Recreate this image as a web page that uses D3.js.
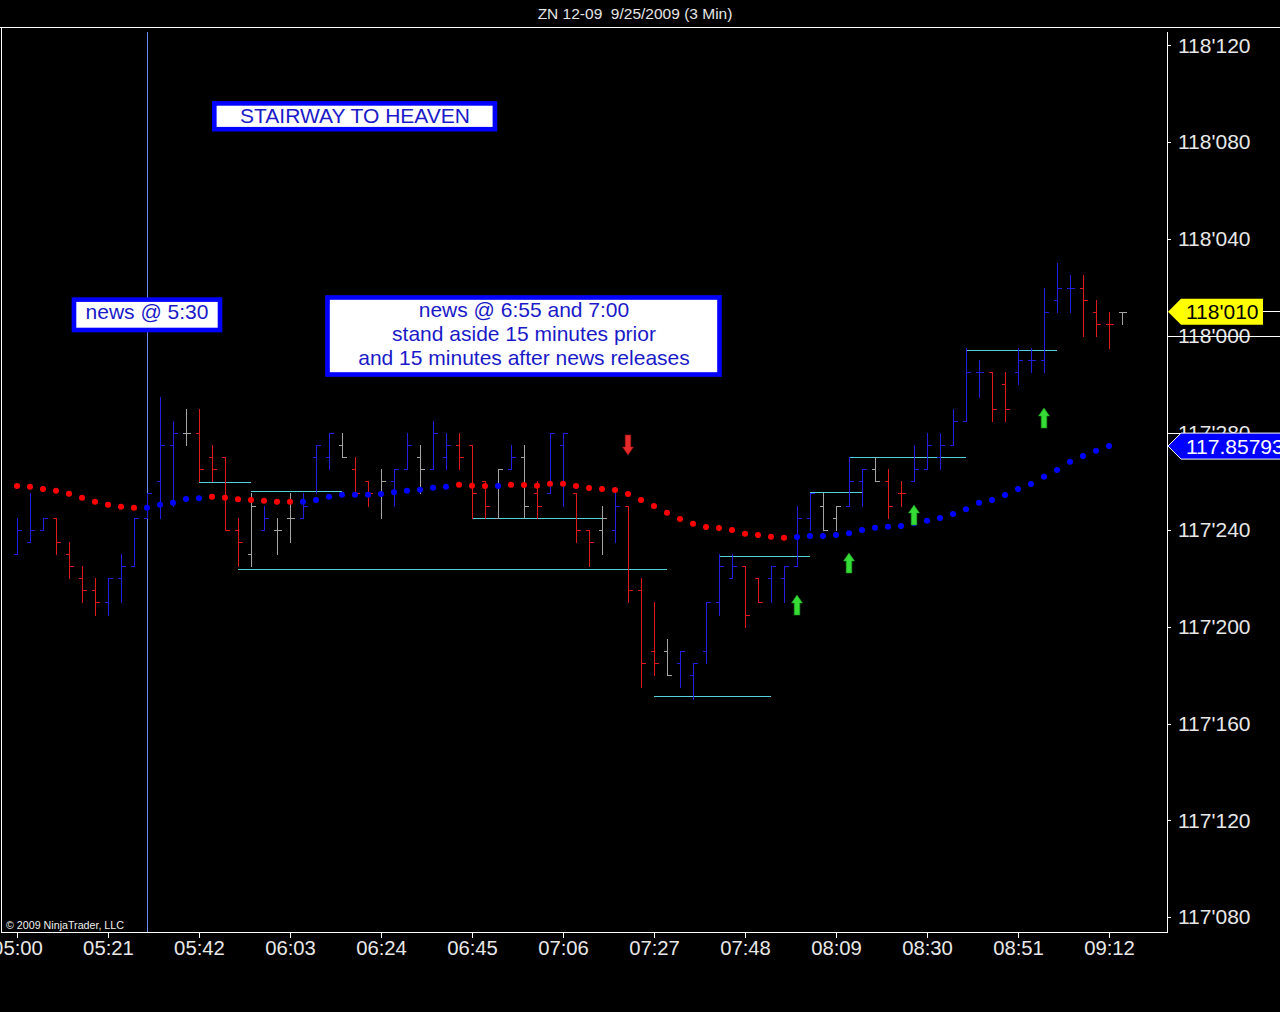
<!DOCTYPE html>
<html>
<head>
<meta charset="utf-8">
<script src="https://cdn.jsdelivr.net/npm/d3@7"></script>
<style>
html,body{margin:0;padding:0;background:#000;overflow:hidden}
svg{display:block}
</style>
</head>
<body>
<svg id="chart" width="1280" height="1012"></svg>
<script>
// ---------------- DATA ----------------
const chartTitle = "ZN 12-09  9/25/2009 (3 Min)";

const barTimes = [
"05:00","05:03","05:06","05:09","05:12","05:15","05:18","05:21","05:24","05:27",
"05:30","05:33","05:36","05:39","05:42","05:45","05:48","05:51","05:54","05:57",
"06:00","06:03","06:06","06:09","06:12","06:15","06:18","06:21","06:24","06:27",
"06:30","06:33","06:36","06:39","06:42","06:45","06:48","06:51","06:54","06:57",
"07:00","07:03","07:06","07:09","07:12","07:15","07:18","07:21","07:24","07:27",
"07:30","07:33","07:36","07:39","07:42","07:45","07:48","07:51","07:54","07:57",
"08:00","08:03","08:06","08:09","08:12","08:15","08:18","08:21","08:24","08:27",
"08:30","08:33","08:36","08:39","08:42","08:45","08:48","08:51","08:54","08:57",
"09:00","09:03","09:06","09:09","09:12","09:15"];

const highs = [
117.765625,117.796875,117.765625,117.765625,117.734375,117.703125,117.6875,117.6875,117.71875,117.765625,
117.796875,117.921875,117.890625,117.90625,117.90625,117.859375,117.84375,117.765625,117.796875,117.78125,
117.765625,117.796875,117.796875,117.859375,117.875,117.875,117.84375,117.8125,117.828125,117.828125,
117.875,117.859375,117.890625,117.875,117.875,117.859375,117.8125,117.828125,117.859375,117.859375,
117.8125,117.875,117.875,117.796875,117.75,117.78125,117.796875,117.78125,117.6875,117.65625,
117.609375,117.59375,117.578125,117.65625,117.71875,117.71875,117.703125,117.6875,117.703125,117.703125,
117.78125,117.796875,117.796875,117.78125,117.84375,117.828125,117.84375,117.828125,117.8125,117.859375,
117.875,117.875,117.90625,117.984375,117.96875,117.953125,117.953125,117.984375,117.984375,118.0625,
118.09375,118.078125,118.078125,118.046875,118.03125,118.03125];

const lows = [
117.71875,117.734375,117.75,117.71875,117.6875,117.65625,117.640625,117.640625,117.65625,117.703125,
117.765625,117.765625,117.78125,117.859375,117.8125,117.8125,117.75,117.703125,117.703125,117.75,
117.71875,117.734375,117.765625,117.796875,117.828125,117.84375,117.796875,117.78125,117.765625,117.78125,
117.828125,117.796875,117.828125,117.828125,117.828125,117.765625,117.765625,117.765625,117.828125,117.765625,
117.765625,117.796875,117.78125,117.734375,117.703125,117.71875,117.734375,117.65625,117.546875,117.5625,
117.5625,117.546875,117.53125,117.578125,117.640625,117.6875,117.625,117.65625,117.65625,117.65625,
117.703125,117.75,117.75,117.75,117.78125,117.78125,117.8125,117.765625,117.78125,117.8125,
117.828125,117.828125,117.859375,117.890625,117.921875,117.890625,117.890625,117.9375,117.953125,117.953125,
118.03125,118.03125,118,118,117.984375,118.015625];

const opens = [
117.71875,117.734375,117.75,117.765625,117.71875,117.6875,117.671875,117.65625,117.6875,117.703125,
117.765625,117.8125,117.859375,117.875,117.875,117.84375,117.84375,117.75,117.71875,117.75,
117.75,117.765625,117.765625,117.84375,117.84375,117.859375,117.828125,117.8125,117.796875,117.8125,
117.828125,117.84375,117.828125,117.84375,117.859375,117.859375,117.8125,117.765625,117.828125,117.84375,
117.796875,117.796875,117.859375,117.796875,117.75,117.75,117.75,117.78125,117.671875,117.59375,
117.59375,117.578125,117.5625,117.59375,117.65625,117.6875,117.703125,117.6875,117.6875,117.6875,
117.703125,117.765625,117.78125,117.765625,117.78125,117.8125,117.828125,117.8125,117.796875,117.8125,
117.828125,117.84375,117.859375,117.890625,117.953125,117.953125,117.9375,117.953125,117.96875,117.96875,
118.046875,118.0625,118.0625,118.03125,118.015625,118.03125];

const closes = [
117.75,117.75,117.765625,117.734375,117.703125,117.671875,117.65625,117.6875,117.703125,117.765625,
117.796875,117.859375,117.875,117.875,117.828125,117.828125,117.75,117.734375,117.78125,117.765625,
117.75,117.765625,117.78125,117.859375,117.875,117.84375,117.796875,117.796875,117.8125,117.828125,
117.859375,117.828125,117.875,117.859375,117.84375,117.796875,117.78125,117.828125,117.84375,117.78125,
117.78125,117.875,117.875,117.75,117.734375,117.765625,117.78125,117.671875,117.578125,117.578125,
117.5625,117.59375,117.578125,117.65625,117.703125,117.703125,117.640625,117.65625,117.703125,117.703125,
117.765625,117.796875,117.75,117.78125,117.8125,117.828125,117.8125,117.78125,117.796875,117.828125,
117.859375,117.859375,117.890625,117.953125,117.953125,117.90625,117.90625,117.96875,117.96875,118.03125,
118.0625,118.0625,118.046875,118.015625,118.015625,118.03125];

// u = up bar, d = down bar, n = neutral bar
const barColorCodes = ("uuu"+"dddd"+"uuuuuu"+"n"+"dddd"+"n"+"u"+"nn"+"uuu"+"n"+"dd"+"n"+"uu"+"n"+"uu"+"ddd"+"n"+"u"+"n"+"d"+"uu"+"dd"+"n"+"u"+"ddd"+"n"+"uuuuu"+"dd"+"uuuu"+"nn"+"uu"+"n"+"dd"+"uuuuuu"+"dd"+"uuuuu"+"ddd"+"n").split("");

// moving average (dots), one per bar from 05:00 to 09:12
const maValues = [
117.8065,117.8055,117.8026,117.8004,117.7965,117.7914,117.7862,117.7823,117.7797,117.7784,
117.7784,117.7823,117.7849,117.7897,117.7906,117.7926,117.7914,117.7893,117.7884,117.7875,
117.7862,117.7862,117.7862,117.7884,117.7926,117.7952,117.7952,117.7952,117.7961,117.7983,
117.8004,117.8017,117.8043,117.8055,117.8081,117.8068,117.8065,117.8065,117.8081,117.8077,
117.8068,117.8094,117.8094,117.8065,117.8039,117.8026,117.8013,117.7961,117.7884,117.7806,
117.7720,117.7639,117.7578,117.7535,117.7523,117.7497,117.7449,117.7432,117.7410,117.7397,
117.7406,117.7419,117.7419,117.7432,117.7454,117.7497,117.7526,117.7539,117.7548,117.7583,
117.7617,117.7652,117.7703,117.7764,117.7849,117.7884,117.7948,117.8026,117.8090,117.8185,
117.8271,117.8378,117.8452,117.8520,117.85793];
const maTrend = ("dddddddddd"+"uuuuu"+"ddddddd"+"uuuuuuuuuuuu"+"ddd"+"u"+"dddddddddddddddddddddd"+"uuuuuuuuuuuuuuuuuuuuuuuuu").split("");

// stair-step levels
const levelFrom  = ["05:42","05:54","05:51","06:45","07:27","07:42","08:03","08:12","08:39"];
const levelTo    = ["05:54","06:15","07:30","07:15","07:54","08:03","08:15","08:39","09:00"];
const levelPrice = [117.8116,117.7996,117.6990,117.7648,117.5355,117.7161,117.7981,117.8443,117.9819];

// signal arrows
const arrowTimes  = ["07:21","08:00","08:12","08:27","08:57"];
const arrowDirs   = ["down","up","up","up","up"];
const arrowPrices = [117.8465,117.6658,117.7200,117.7819,117.9071];

const newsTime = "05:30";
const lastPrice = 118.03125;
const maLast = 117.85793;

const yTickValues = [117.25,117.375,117.5,117.625,117.75,117.875,118.0,118.125,118.25,118.375];
const xTickLabels = ["05:00","05:21","05:42","06:03","06:24","06:45","07:06","07:27","07:48","08:09","08:30","08:51","09:12"];

const noteStairway = "STAIRWAY TO HEAVEN";
const noteNews1 = "news @ 5:30";
const noteNews2 = ["news @ 6:55 and 7:00","stand aside 15 minutes prior","and 15 minutes after news releases"];
const copyright = "\u00A9 2009 NinjaTrader, LLC";

// ---------------- DRAW ----------------
const W = 1280, H = 1012;
const FONT = "'Liberation Sans', Arial, Helvetica, sans-serif";
const toMin = s => { const p = s.split(":").map(Number); return p[0]*60 + p[1]; };
const fmt32 = p => {
  const whole = Math.floor(p + 1e-9);
  const n = Math.round((p - whole) * 320);
  return whole + "'" + String(n).padStart(3, "0");
};

const svg = d3.select("#chart");
const x = d3.scaleLinear().domain([296.3077, 565.3846]).range([1, 1167]);
const y = d3.scaleLinear().domain([117.23097, 118.39871]).range([932, 27]);
const px = v => Math.round(v) + 0.5;

svg.append("rect").attr("width", W).attr("height", H).attr("fill", "#000");

svg.append("defs").append("clipPath").attr("id", "plotclip")
  .append("rect").attr("x", 2).attr("y", 28).attr("width", 1165).attr("height", 904);

// title
svg.append("text").attr("x", 635).attr("y", 19).attr("text-anchor", "middle")
  .attr("fill", "#e6e6e6").style("font-family", FONT).style("font-size", "15.5px")
  .style("white-space", "pre").attr("xml:space", "preserve")
  .text(chartTitle);

// frame
const frame = svg.append("g").attr("stroke", "#fff").attr("stroke-width", 1).attr("shape-rendering", "crispEdges");
frame.append("line").attr("x1", 0).attr("x2", W).attr("y1", 27.5).attr("y2", 27.5);
frame.append("line").attr("x1", 1.5).attr("x2", 1.5).attr("y1", 27).attr("y2", 932);
frame.append("line").attr("x1", 1).attr("x2", 1167).attr("y1", 932.5).attr("y2", 932.5);
frame.append("line").attr("x1", 1167.5).attr("x2", 1167.5).attr("y1", 32).attr("y2", 933);

const plot = svg.append("g").attr("clip-path", "url(#plotclip)");

// news vertical line
plot.append("line")
  .attr("x1", px(x(toMin(newsTime)))).attr("x2", px(x(toMin(newsTime))))
  .attr("y1", 32).attr("y2", 932)
  .attr("stroke", "#6a8cf2").attr("stroke-width", 1).attr("shape-rendering", "crispEdges");

// levels
plot.append("g").selectAll("line").data(levelPrice).join("line")
  .attr("x1", (d, i) => x(toMin(levelFrom[i])))
  .attr("x2", (d, i) => x(toMin(levelTo[i])))
  .attr("y1", d => px(y(d))).attr("y2", d => px(y(d)))
  .attr("stroke", "#55d2da").attr("stroke-width", 1).attr("shape-rendering", "crispEdges");

// OHLC bars
const barColor = { u: "#2020dc", d: "#dc1a1a", n: "#a4a4a4" };
plot.append("g").selectAll("path").data(barTimes).join("path")
  .attr("d", (t, i) => {
    const cx = px(x(toMin(t)));
    const yh = Math.round(y(highs[i])), yl = Math.round(y(lows[i]));
    const yo = px(y(opens[i])), yc = px(y(closes[i]));
    return `M${cx},${yh}V${yl + 1}M${cx - 4},${yo}H${cx}M${cx},${yc}H${cx + 4}`;
  })
  .attr("fill", "none")
  .attr("stroke", (t, i) => barColor[barColorCodes[i]])
  .attr("stroke-width", 1.3)
  .attr("shape-rendering", "crispEdges");

// moving average dots
plot.append("g").selectAll("circle").data(maValues).join("circle")
  .attr("cx", (d, i) => x(toMin(barTimes[i])))
  .attr("cy", d => y(d))
  .attr("r", 3)
  .attr("fill", (d, i) => maTrend[i] === "u" ? "#0000ff" : "#ff0000");

// arrows
plot.append("g").selectAll("path").data(arrowPrices).join("path")
  .attr("d", (p, i) => {
    const cx = x(toMin(arrowTimes[i]));
    const ty = y(p);
    const s = arrowDirs[i] === "up" ? 1 : -1;
    return `M${cx},${ty}L${cx + 5.5},${ty + 8 * s}L${cx + 2.8},${ty + 8 * s}L${cx + 2.8},${ty + 20 * s}` +
           `L${cx - 2.8},${ty + 20 * s}L${cx - 2.8},${ty + 8 * s}L${cx - 5.5},${ty + 8 * s}Z`;
  })
  .attr("fill", (p, i) => arrowDirs[i] === "up" ? "#36dc36" : "#e42a2a")
  .attr("stroke", (p, i) => arrowDirs[i] === "up" ? "#1f9a1f" : "#a01010")
  .attr("stroke-width", 0.6);

// notes
const noteG = svg.append("g").style("font-family", FONT);
function noteBox(rx, ry, rw, rh) {
  noteG.append("rect").attr("x", rx).attr("y", ry).attr("width", rw).attr("height", rh)
    .attr("fill", "#fff").attr("stroke", "#0000ff").attr("stroke-width", 4.6);
}
noteBox(214.3, 103.4, 280.6, 25.8);
noteG.append("text").attr("x", 355).attr("y", 123).attr("text-anchor", "middle")
  .attr("fill", "#1a1ac8").style("font-size", "21px").text(noteStairway);

noteBox(74, 299.6, 146, 30.4);
noteG.append("text").attr("x", 147).attr("y", 319).attr("text-anchor", "middle")
  .attr("fill", "#1a1ac8").style("font-size", "21px").text(noteNews1);

noteBox(327.5, 297.5, 392, 77);
noteG.selectAll("text.n2").data(noteNews2).join("text").attr("class", "n2")
  .attr("x", 524).attr("y", (d, i) => 316.5 + i * 24).attr("text-anchor", "middle")
  .attr("fill", "#1a1ac8").style("font-size", "21px").text(d => d);

// copyright
svg.append("text").attr("x", 6).attr("y", 929).attr("fill", "#f0f0f0")
  .style("font-family", FONT).style("font-size", "10.7px").text(copyright);

// y axis (right)
const yAxis = d3.axisRight(y).tickValues(yTickValues).tickFormat(fmt32)
  .tickSize(4).tickPadding(7).tickSizeOuter(0);
const gy = svg.append("g").attr("transform", "translate(1167,0)").call(yAxis);
gy.select(".domain").remove();
gy.selectAll(".tick line").attr("stroke", "#fff").attr("shape-rendering", "crispEdges");
gy.selectAll(".tick text").attr("fill", "#e8e8e8").style("font-family", FONT).style("font-size", "21px");

// lines running through labels near markers
const lineVals = [118.0, 117.875];
svg.append("g").selectAll("line").data(lineVals).join("line")
  .attr("x1", 1167).attr("x2", W).attr("y1", d => px(y(d))).attr("y2", d => px(y(d)))
  .attr("stroke", "#fff").attr("stroke-width", 1).attr("shape-rendering", "crispEdges");

// x axis (bottom)
const xAxis = d3.axisBottom(x).tickValues(xTickLabels.map(toMin))
  .tickFormat((d, i) => xTickLabels[i]).tickSize(6).tickPadding(3).tickSizeOuter(0);
const gx = svg.append("g").attr("transform", "translate(0,932)").call(xAxis);
gx.select(".domain").remove();
gx.selectAll(".tick line").attr("stroke", "#fff").attr("shape-rendering", "crispEdges");
gx.selectAll(".tick text").attr("fill", "#e8e8e8").style("font-family", FONT).style("font-size", "20.3px");

// price markers
function marker(price, fill, stroke, textFill, label, right) {
  const cy = y(price);
  const g = svg.append("g");
  g.append("path")
    .attr("d", `M1168,${cy}L1181,${cy - 13}H${right}V${cy + 13}H1181Z`)
    .attr("fill", fill).attr("stroke", stroke).attr("stroke-width", 1);
  g.append("text").attr("x", 1186).attr("y", cy + 7.4).attr("fill", textFill)
    .style("font-family", FONT).style("font-size", "21px").text(label);
}
svg.append("line").attr("x1", 1263).attr("x2", W).attr("y1", px(y(lastPrice)) - 1).attr("y2", px(y(lastPrice)) - 1)
  .attr("stroke", "#fff").attr("shape-rendering", "crispEdges");
marker(lastPrice, "#ffff00", "none", "#000", fmt32(lastPrice), 1263);
marker(maLast, "#0000ff", "#fff", "#fff", maLast.toFixed(5), 1290);
</script>
</body>
</html>
